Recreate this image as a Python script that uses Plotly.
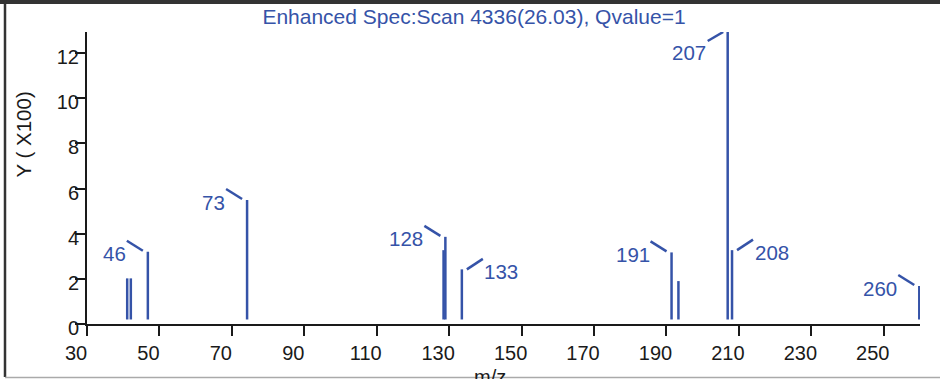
import plotly.graph_objects as go

# ---------------- data ----------------
mz = [41.1, 42.1, 46.8, 74.2, 128.45, 128.95, 133.5, 191.4, 193.3, 206.9, 208.1, 259.8]
intensity = [2.02, 2.02, 3.20, 5.49, 3.27, 3.86, 2.42, 3.17, 1.90, 12.93, 3.27, 1.68]
peak_labels = ["46", "73", "128", "133", "191", "207", "208", "260"]
label_peak_index = [2, 3, 5, 6, 7, 9, 10, 11]
label_side = ["left", "left", "left", "right", "left", "below", "right", "left"]
x_ticks = [30, 50, 70, 90, 110, 130, 150, 170, 190, 210, 230, 250]
y_ticks = [0, 2, 4, 6, 8, 10, 12]
baseline = 0.2
title_text = "Enhanced Spec:Scan 4336(26.03), Qvalue=1"
x_title = "m/z"
y_title = "Y ( X100)"

BLUE = "#3553a8"
DARK = "#1a1a1a"
FONT = "Liberation Sans, Arial, sans-serif"

# ---------------- sticks ----------------
xs, ys = [], []
for m, h in zip(mz, intensity):
    xs += [m, m, None]
    ys += [baseline, h, None]

fig = go.Figure()
fig.add_trace(go.Scatter(x=xs, y=ys, mode="lines",
                         line=dict(color=BLUE, width=2.5),
                         cliponaxis=False, hoverinfo="skip", showlegend=False))

# ---------------- peak labels + leaders ----------------
leader = {
    "left": dict(x0=-21, x1=-5, y0=11, y1=1),
    "right": dict(x0=5, x1=21, y0=0, y1=10.5),
    "below": dict(x0=-20, x1=-4.5, y0=-9, y1=0),
}
text_pos = {
    "left": dict(xanchor="right", xshift=-20, yshift=-2),
    "right": dict(xanchor="left", xshift=20.5, yshift=-2.3),
    "below": dict(xanchor="right", xshift=-20, yshift=-20),
}
for lab, idx, side in zip(peak_labels, label_peak_index, label_side):
    m, h = mz[idx], intensity[idx]
    L = leader[side]
    fig.add_shape(type="line", xref="x", yref="y",
                  xsizemode="pixel", ysizemode="pixel",
                  xanchor=m, yanchor=h,
                  x0=L["x0"], x1=L["x1"], y0=L["y0"], y1=L["y1"],
                  line=dict(color=BLUE, width=2.5))
    T = text_pos[side]
    fig.add_annotation(x=m, y=h, xref="x", yref="y", text=lab, showarrow=False,
                       xanchor=T["xanchor"], yanchor="middle",
                       xshift=T["xshift"], yshift=T["yshift"],
                       font=dict(family=FONT, size=20.5, color=BLUE))

# ---------------- layout ----------------
L_M, R_M, T_M, B_M = 87, 20, 32, 55
W, H = 940, 379
pw = W - L_M - R_M
ph = H - T_M - B_M


def px2paper_x(px):
    return (px - L_M) / pw


def px2paper_y(py):
    return (H - B_M - py) / ph


axis_common = dict(showgrid=False, zeroline=False, showline=True, linewidth=2,
                   linecolor=DARK, ticks="outside", ticklen=10, tickwidth=2,
                   tickcolor=DARK, tickfont=dict(family=FONT, size=20, color=DARK))

fig.update_layout(
    width=W, height=H,
    margin=dict(l=L_M, r=R_M, t=T_M, b=B_M),
    paper_bgcolor="white", plot_bgcolor="white",
    xaxis=dict(range=[30, 260], tickvals=x_ticks, ticktext=[str(v) for v in x_ticks],
               ticklabelshift=-11, **axis_common),
    yaxis=dict(range=[0, 12.93], tickvals=y_ticks, ticktext=[str(v) for v in y_ticks],
               ticklabelshift=4, ticklabelstandoff=-8, **axis_common),
    title=dict(text=title_text, x=474 / W, xanchor="center", xref="container",
               y=1 - 17 / H, yanchor="middle", yref="container",
               font=dict(family=FONT, size=21, color=BLUE)),
    showlegend=False,
)

# axis titles
fig.add_annotation(text=y_title, xref="paper", yref="paper",
                   x=px2paper_x(22.5), y=px2paper_y(135), textangle=-90,
                   xanchor="center", yanchor="middle", showarrow=False,
                   font=dict(family=FONT, size=20.5, color=DARK))
fig.add_annotation(text=x_title, xref="paper", yref="paper",
                   x=px2paper_x(490), y=px2paper_y(364), xanchor="center",
                   yanchor="top", showarrow=False,
                   font=dict(family=FONT, size=20, color=DARK))

# frame decorations
fig.add_shape(type="rect", xref="paper", yref="paper",
              x0=px2paper_x(0), x1=px2paper_x(W), y0=px2paper_y(0), y1=px2paper_y(4),
              fillcolor="#333333", line=dict(width=0), layer="above")
fig.add_shape(type="line", xref="paper", yref="paper",
              x0=px2paper_x(5), x1=px2paper_x(5), y0=px2paper_y(0), y1=px2paper_y(377),
              line=dict(color="#333333", width=2.5))
fig.add_shape(type="line", xref="paper", yref="paper",
              x0=px2paper_x(5), x1=px2paper_x(W), y0=px2paper_y(377.5), y1=px2paper_y(377.5),
              line=dict(color="#aaaaaa", width=1.5))

fig.write_html("out.html")
